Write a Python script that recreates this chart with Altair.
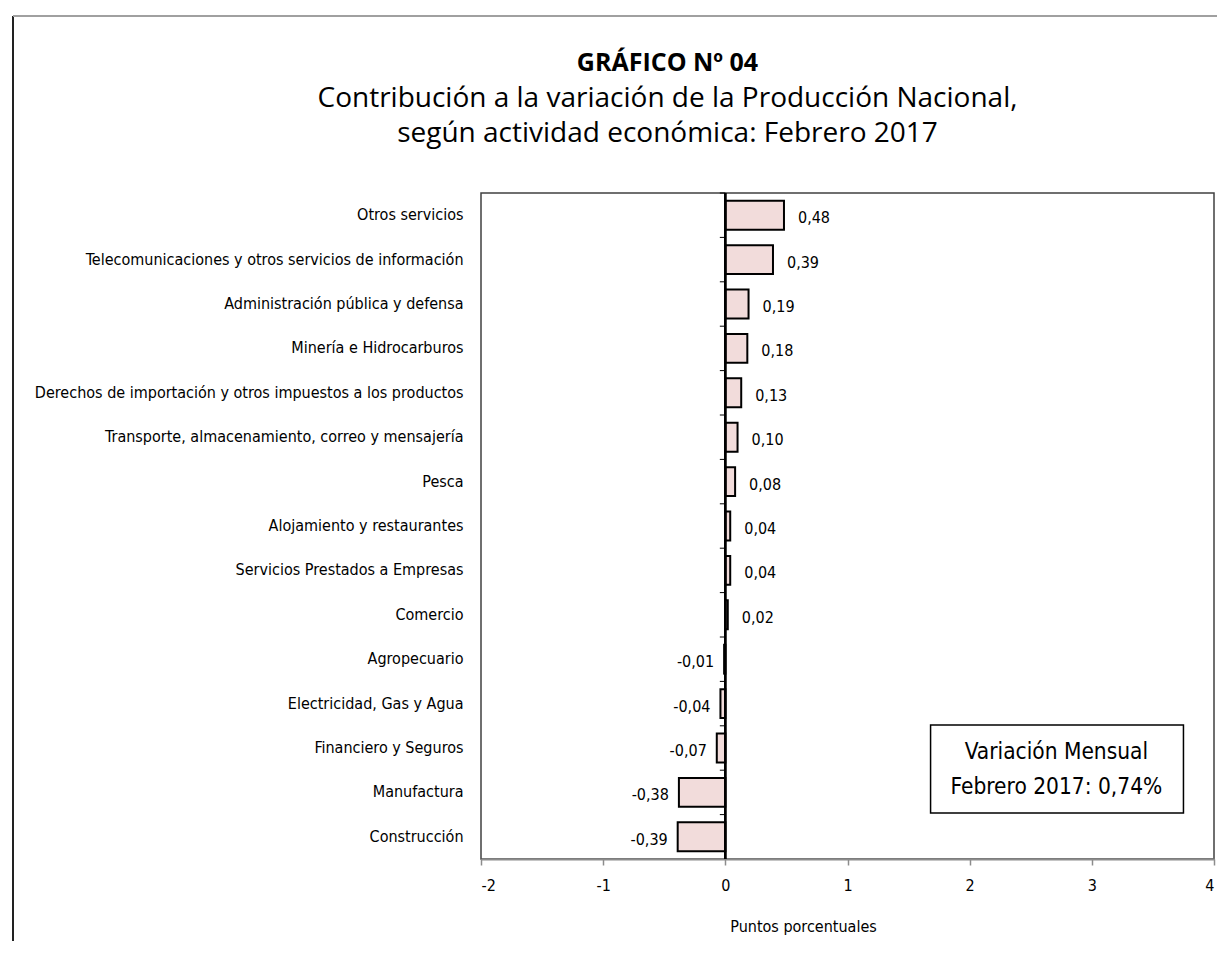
import altair as alt
import pandas as pd

categories = [
    "Otros servicios",
    "Telecomunicaciones y otros servicios de información\u00a0",
    "Administración pública y defensa\u00a0",
    "Minería e Hidrocarburos",
    "Derechos de importación y otros impuestos a los productos",
    "Transporte, almacenamiento, correo y mensajería\u00a0",
    "Pesca",
    "Alojamiento y restaurantes\u00a0",
    "Servicios Prestados a Empresas",
    "Comercio",
    "Agropecuario",
    "Electricidad, Gas y Agua",
    "Financiero y Seguros",
    "Manufactura",
    "Construcción",
]
values = [0.48, 0.39, 0.19, 0.18, 0.13, 0.10, 0.08, 0.04, 0.04, 0.02,
          -0.01, -0.04, -0.07, -0.38, -0.39]
x_ticks = [-2, -1, 0, 1, 2, 3, 4]
box_lines = ["Variación Mensual", "Febrero 2017: 0,74%"]
box_range = [1.68, 3.75]
box_text_x = 2.71

title_main = "GRÁFICO Nº 04"
subtitle_lines = ["Contribución a la variación de la Producción Nacional,",
                  "según actividad económica: Febrero 2017"]

df = pd.DataFrame({
    "cat": categories,
    "val": values,
    "lab": [f"{v:.2f}".replace(".", ",") for v in values],
})

NARROW = "DejaVu Sans Condensed, sans-serif"
FS = 16
W, H = 733, 666

yscale = alt.Scale(paddingInner=0, paddingOuter=0)
xscale = alt.Scale(domain=[-2, 4], nice=False, zero=False)

base = alt.Chart(df)

bars = base.mark_bar(
    fill="#F2DCDB", stroke="black", strokeWidth=2, height={"band": 0.65}
).encode(
    y=alt.Y("cat:N", sort=categories, scale=yscale,
            axis=alt.Axis(title=None, ticks=False, domain=False, labelPadding=18,
                          labelLimit=600, labelFont=NARROW, labelFontSize=FS,
                          labelColor="black")),
    x=alt.X("val:Q", scale=xscale,
            axis=alt.Axis(values=x_ticks, title="Puntos porcentuales",
                          labelExpr="'' + datum.value", grid=False,
                          domainColor="#8c8c8c", domainWidth=2,
                          tickColor="#8c8c8c", tickWidth=1.5, tickSize=6,
                          labelPadding=12, labelFont=NARROW, labelFontSize=FS,
                          labelColor="black", titleFont=NARROW, titleFontSize=FS,
                          titleFontWeight="normal", titleColor="black",
                          titleX=322, titleY=67, titleBaseline="middle",
                          titleAlign="center")),
)

pos_labels = base.transform_filter("datum.val >= 0").mark_text(
    align="left", baseline="middle", dx=14, dy=3, font=NARROW, fontSize=FS,
    color="black"
).encode(y=alt.Y("cat:N", sort=categories), x="val:Q", text="lab:N")

neg_labels = base.transform_filter("datum.val < 0").mark_text(
    align="right", baseline="middle", dx=-10, dy=3, font=NARROW, fontSize=FS,
    color="black"
).encode(y=alt.Y("cat:N", sort=categories), x="val:Q", text="lab:N")

zero_line = base.mark_rule(color="black", strokeWidth=1.5).encode(
    x=alt.datum(0), y=alt.value(0), y2=alt.value(H)
)

cat_ticks = base.mark_rule(color="black", strokeWidth=1).encode(
    y=alt.Y("cat:N", sort=categories, bandPosition=0),
    x=alt.datum(-0.045), x2=alt.datum(0)
)

one = alt.Chart(pd.DataFrame({"k": [0]}))

box = one.mark_rect(fill="white", stroke="black", strokeWidth=1.5).encode(
    x=alt.datum(box_range[0]), x2=alt.datum(box_range[1]),
    y=alt.value(532), y2=alt.value(620)
)
box_t1 = one.mark_text(font=NARROW, fontSize=22.5, color="black", baseline="middle").encode(
    x=alt.datum(box_text_x), y=alt.value(559), text=alt.value(box_lines[0])
)
box_t2 = one.mark_text(font=NARROW, fontSize=22.5, color="black", baseline="middle").encode(
    x=alt.datum(box_text_x), y=alt.value(594), text=alt.value(box_lines[1])
)

border_left = one.mark_rule(color="#222222", strokeWidth=2).encode(
    x=alt.value(-468), y=alt.value(-177), y2=alt.value(748)
)
border_top = one.mark_rule(color="#a0a0a0", strokeWidth=2).encode(
    x=alt.value(-468), x2=alt.value(736), y=alt.value(-177)
)

chart = alt.layer(
    bars, zero_line, cat_ticks, pos_labels, neg_labels, box, box_t1, box_t2,
    border_left, border_top
).properties(
    width=W, height=H,
    padding={"left": 4, "top": 7, "right": 0, "bottom": 0},
    title=alt.TitleParams(
        text=title_main, subtitle=subtitle_lines, anchor="middle", frame="group",
        dx=-180, font="Open Sans", fontSize=25, fontWeight="bold", color="black",
        subtitleFont="Open Sans", subtitleFontSize=28, subtitleColor="black",
        subtitleLineHeight=35, subtitlePadding=9, offset=-133
    )
).configure(
    background="white",
    view=alt.ViewConfig(stroke="#404040", strokeWidth=1.5),
)

chart.save("out.html", embed_options={"renderer": "svg", "actions": False})
